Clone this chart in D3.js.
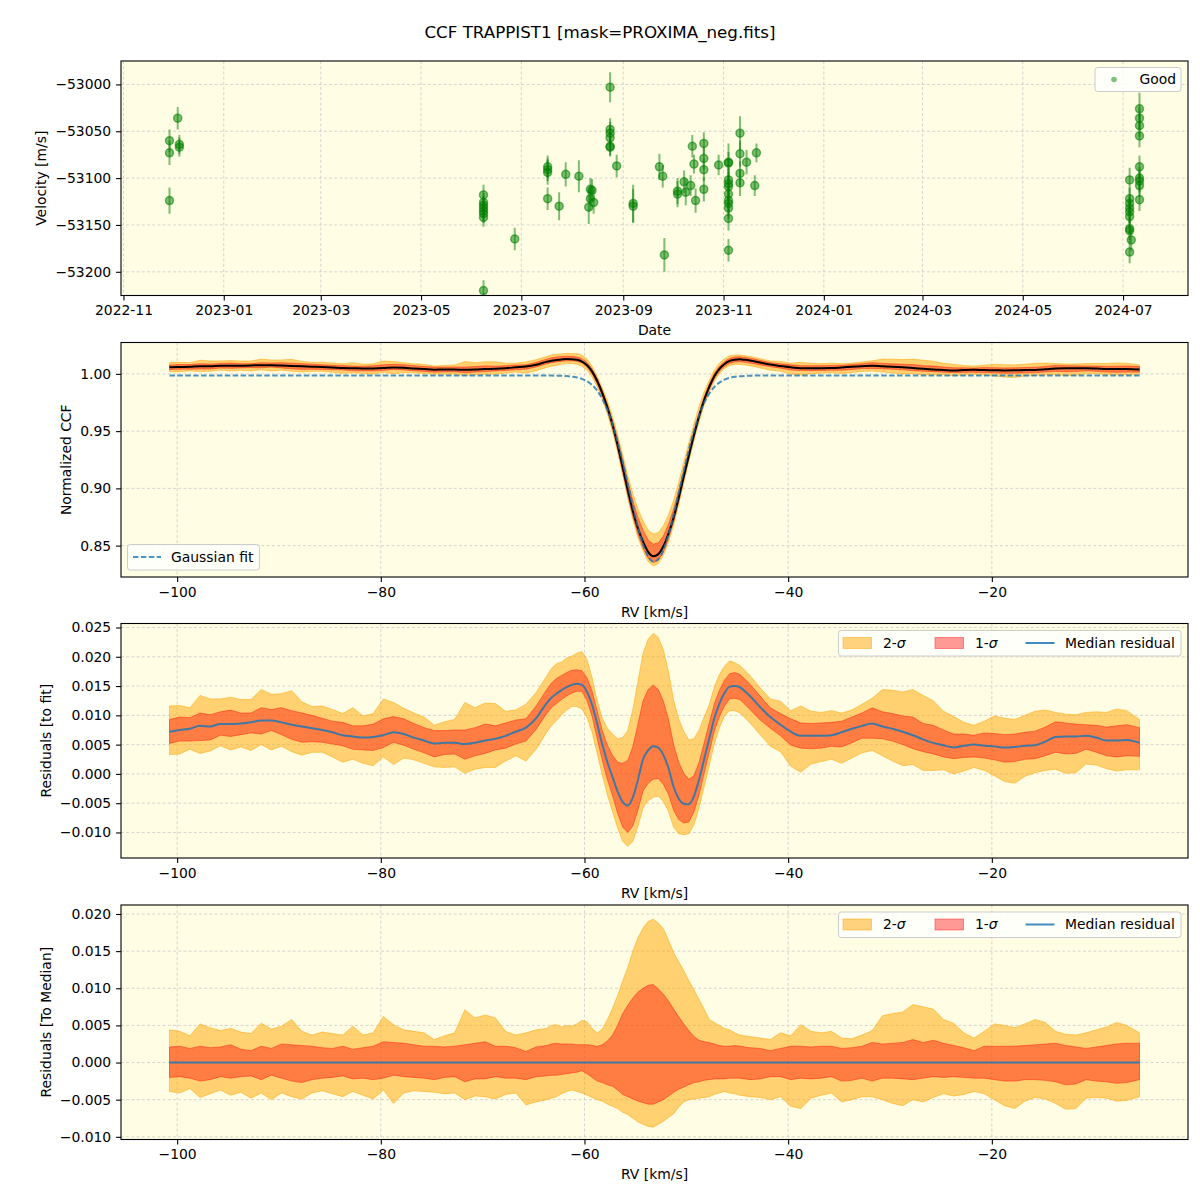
<!DOCTYPE html>
<html>
<head>
<meta charset="utf-8">
<script src="https://cdn.jsdelivr.net/npm/d3@7"></script>
<style>
body { margin: 0; background: #fff; }
text { font-family: "DejaVu Sans", sans-serif; }
</style>
</head>
<body>
<div id="chart"></div>
<script>
// Velocity time series (panel 1)
var velDates = [
	"2022-11-29","2022-11-29","2022-11-29","2022-12-04","2022-12-05","2022-12-05",
	"2023-06-08","2023-06-08","2023-06-08","2023-06-08","2023-06-08","2023-06-08","2023-06-08","2023-06-08",
	"2023-06-27","2023-07-17","2023-07-17","2023-07-17","2023-07-17","2023-07-24","2023-07-28","2023-08-05",
	"2023-08-11","2023-08-12","2023-08-12","2023-08-13","2023-08-14",
	"2023-08-24","2023-08-24","2023-08-24","2023-08-24","2023-08-24","2023-08-24","2023-08-28",
	"2023-09-07","2023-09-07","2023-09-23","2023-09-25","2023-09-26",
	"2023-10-04","2023-10-04","2023-10-08","2023-10-09","2023-10-12","2023-10-13","2023-10-14","2023-10-15",
	"2023-10-20","2023-10-20","2023-10-20","2023-10-20","2023-10-29",
	"2023-11-04","2023-11-04","2023-11-04","2023-11-04","2023-11-04","2023-11-04","2023-11-04","2023-11-04","2023-11-04","2023-11-04","2023-11-04",
	"2023-11-11","2023-11-11","2023-11-11","2023-11-11","2023-11-15","2023-11-20","2023-11-21",
	"2024-07-05","2024-07-05","2024-07-05","2024-07-05","2024-07-05","2024-07-05","2024-07-05","2024-07-05","2024-07-06","2024-07-05",
	"2024-07-11","2024-07-11","2024-07-11","2024-07-11","2024-07-11","2024-07-11","2024-07-11","2024-07-11","2024-07-11"
];
var velValues = [
	-53060,-53073,-53124,-53036,-53064,-53067,
	-53118,-53126,-53129,-53132,-53135,-53138,-53142,-53220,
	-53165,-53088,-53091,-53094,-53122,-53130,-53096,-53098,
	-53131,-53112,-53122,-53113,-53126,
	-53003,-53048,-53052,-53057,-53066,-53067,-53087,
	-53127,-53130,-53088,-53098,-53182,
	-53114,-53117,-53104,-53115,-53108,-53066,-53085,-53124,
	-53063,-53079,-53091,-53112,-53086,
	-53083,-53084,-53102,-53106,-53109,-53117,-53124,-53127,-53132,-53143,-53177,
	-53052,-53074,-53095,-53105,-53083,-53108,-53073,
	-53102,-53122,-53127,-53132,-53136,-53141,-53154,-53156,-53166,-53179,
	-53026,-53036,-53044,-53055,-53088,-53100,-53103,-53108,-53123
];
var velErrors = [
	12,13,14,12,10,10,
	11,10,10,10,10,10,10,11,
	12,12,12,13,12,15,13,17,
	18,12,12,12,12,
	16,12,12,11,10,10,12,
	20,18,14,12,18,
	14,14,12,14,11,12,10,13,
	12,12,12,13,11,
	20,12,13,12,12,12,12,12,12,13,12,
	18,14,13,14,13,11,10,
	13,12,12,12,12,12,12,12,12,12,
	17,12,12,12,12,12,12,12,12
];

// CCF grid [km/s]
var rv = [
	-100.75,-99.75,-98.75,-97.75,-96.75,-95.75,-94.75,-93.75,-92.75,-91.75,
	-90.75,-89.75,-88.75,-87.75,-86.75,-85.75,-84.75,-83.75,-82.75,-81.75,
	-80.75,-79.75,-78.75,-77.75,-76.75,-75.75,-74.75,-73.75,-72.75,-71.75,
	-70.75,-69.75,-68.75,-67.75,-66.75,-65.75,-64.75,
	-63.75,-63.25,-62.75,-62.25,-61.75,-61.25,-60.75,-60.25,-59.75,-59.25,
	-58.75,-58.25,-57.75,-57.25,-56.75,-56.25,-55.75,-55.25,-54.75,-54.25,
	-53.75,-53.25,-52.75,-52.25,-51.75,-51.25,-50.75,-50.25,-49.75,-49.25,
	-48.75,-48.25,-47.75,-47.25,-46.75,-46.25,-45.75,-45.25,-44.75,-44.25,
	-43.75,
	-42.75,-41.75,-40.75,-39.75,-38.75,-37.75,-36.75,-35.75,-34.75,-33.75,
	-32.75,-31.75,-30.75,-29.75,-28.75,-27.75,-26.75,-25.75,-24.75,-23.75,
	-22.75,-21.75,-20.75,-19.75,-18.75,-17.75,-16.75,-15.75,-14.75,-13.75,
	-12.75,-11.75,-10.75,-9.75,-8.75,-7.75,-6.75,-5.5
];
// Gaussian fit
var gaussFit = [
	0.9985,0.9985,0.9985,0.9985,0.9985,0.9985,0.9985,0.9985,0.9985,0.9985,
	0.9985,0.9985,0.9985,0.9985,0.9985,0.9985,0.9985,0.9985,0.9985,0.9985,
	0.9985,0.9985,0.9985,0.9985,0.9985,0.9985,0.9985,0.9985,0.9985,0.9985,
	0.9985,0.9985,0.9985,0.9985,0.9985,0.9985,0.9985,
	0.9985,0.9985,0.9984,0.9983,0.9981,0.9976,0.9969,0.9956,0.9935,0.9902,
	0.9853,0.9782,0.9686,0.9562,0.9409,0.9232,0.9039,0.8843,0.8661,0.8510,
	0.8406,0.8361,0.8381,0.8462,0.8596,0.8768,0.8960,0.9156,0.9340,0.9504,
	0.9640,0.9747,0.9827,0.9885,0.9924,0.9949,0.9965,0.9974,0.9979,0.9982,
	0.9984,
	0.9985,0.9985,0.9985,0.9985,0.9985,0.9985,0.9985,0.9985,0.9985,0.9985,
	0.9985,0.9985,0.9985,0.9985,0.9985,0.9985,0.9985,0.9985,0.9985,0.9985,
	0.9985,0.9985,0.9985,0.9985,0.9985,0.9985,0.9985,0.9985,0.9985,0.9985,
	0.9985,0.9985,0.9985,0.9985,0.9985,0.9985,0.9985,0.9985
];
// Median residual to the fit
var medRes = [
	0.0072,0.0075,0.0077,0.0082,0.0081,0.0085,0.0085,0.0086,0.0088,0.0091,
	0.0091,0.0088,0.0084,0.0081,0.0078,0.0075,0.0071,0.0066,0.0064,0.0062,
	0.0063,0.0066,0.0071,0.0068,0.0062,0.0057,0.0052,0.0053,0.0053,0.0051,
	0.0053,0.0057,0.0060,0.0065,0.0072,0.0079,0.0095,
	0.0120,0.0130,0.0137,0.0143,0.0148,0.0152,0.0154,0.0152,0.0140,0.0118,
	0.0085,0.0050,0.0020,-0.0005,-0.0030,-0.0048,-0.0054,-0.0040,-0.0010,0.0025,
	0.0040,0.0047,0.0045,0.0032,0.0010,-0.0022,-0.0042,-0.0051,-0.0052,-0.0038,
	-0.0010,0.0025,0.0060,0.0095,0.0120,0.0138,0.0149,0.0150,0.0148,0.0141,
	0.0133,
	0.0114,0.0097,0.0084,0.0072,0.0065,0.0065,0.0065,0.0066,0.0071,0.0077,
	0.0082,0.0086,0.0081,0.0077,0.0072,0.0066,0.0059,0.0053,0.0049,0.0045,
	0.0048,0.0050,0.0048,0.0047,0.0045,0.0046,0.0048,0.0049,0.0055,0.0063,
	0.0064,0.0064,0.0065,0.0062,0.0057,0.0057,0.0058,0.0053
];
// Percentile bands relative to the median
var hi2 = [
	0.0044,0.0042,0.0036,0.0052,0.0047,0.0043,0.0046,0.0041,0.0039,0.0053,
	0.0045,0.0049,0.0058,0.0042,0.0037,0.0041,0.0039,0.0037,0.0049,0.0037,
	0.0040,0.0062,0.0051,0.0044,0.0042,0.0040,0.0031,0.0036,0.0040,0.0071,
	0.0060,0.0064,0.0060,0.0042,0.0037,0.0040,0.0044,
	0.0046,0.0050,0.0051,0.0048,0.0050,0.0049,0.0052,0.0057,0.0055,0.0046,
	0.0040,0.0045,0.0058,0.0073,0.0090,0.0110,0.0128,0.0150,0.0168,0.0181,
	0.0190,0.0193,0.0188,0.0180,0.0165,0.0148,0.0136,0.0124,0.0110,0.0098,
	0.0085,0.0072,0.0058,0.0054,0.0050,0.0046,0.0044,0.0040,0.0037,0.0036,
	0.0035,
	0.0033,0.0031,0.0040,0.0036,0.0051,0.0042,0.0040,0.0042,0.0033,0.0032,
	0.0037,0.0043,0.0063,0.0066,0.0068,0.0078,0.0075,0.0072,0.0058,0.0053,
	0.0040,0.0033,0.0042,0.0052,0.0050,0.0047,0.0052,0.0058,0.0054,0.0042,
	0.0038,0.0037,0.0040,0.0044,0.0048,0.0054,0.0050,0.0040
];
var hi1 = [
	0.0021,0.0022,0.0019,0.0022,0.0020,0.0021,0.0024,0.0018,0.0016,0.0022,
	0.0019,0.0025,0.0024,0.0023,0.0022,0.0020,0.0019,0.0022,0.0018,0.0020,
	0.0022,0.0028,0.0027,0.0026,0.0024,0.0022,0.0022,0.0021,0.0022,0.0024,
	0.0026,0.0028,0.0022,0.0022,0.0020,0.0015,0.0021,
	0.0023,0.0025,0.0026,0.0025,0.0025,0.0025,0.0024,0.0024,0.0024,0.0023,
	0.0022,0.0024,0.0029,0.0037,0.0050,0.0066,0.0077,0.0087,0.0095,0.0100,
	0.0104,0.0105,0.0099,0.0092,0.0083,0.0072,0.0062,0.0052,0.0043,0.0035,
	0.0030,0.0028,0.0027,0.0025,0.0023,0.0022,0.0022,0.0023,0.0022,0.0021,
	0.0020,
	0.0019,0.0016,0.0019,0.0022,0.0022,0.0021,0.0022,0.0022,0.0019,0.0020,
	0.0022,0.0027,0.0025,0.0026,0.0027,0.0031,0.0027,0.0030,0.0026,0.0023,
	0.0020,0.0016,0.0022,0.0022,0.0022,0.0022,0.0023,0.0024,0.0025,0.0026,
	0.0023,0.0021,0.0019,0.0021,0.0023,0.0025,0.0026,0.0026
];
var lo1 = [
	-0.0020,-0.0019,-0.0021,-0.0025,-0.0023,-0.0019,-0.0021,-0.0019,-0.0018,-0.0023,
	-0.0017,-0.0021,-0.0025,-0.0027,-0.0023,-0.0021,-0.0020,-0.0018,-0.0022,-0.0021,
	-0.0023,-0.0021,-0.0017,-0.0019,-0.0020,-0.0021,-0.0023,-0.0020,-0.0019,-0.0026,
	-0.0022,-0.0022,-0.0019,-0.0021,-0.0021,-0.0023,-0.0019,
	-0.0018,-0.0017,-0.0017,-0.0016,-0.0015,-0.0014,-0.0013,-0.0011,-0.0015,-0.0020,
	-0.0025,-0.0027,-0.0030,-0.0032,-0.0037,-0.0043,-0.0046,-0.0049,-0.0052,-0.0054,
	-0.0056,-0.0056,-0.0053,-0.0050,-0.0045,-0.0040,-0.0036,-0.0033,-0.0030,-0.0027,
	-0.0026,-0.0024,-0.0023,-0.0022,-0.0022,-0.0022,-0.0021,-0.0021,-0.0021,-0.0022,
	-0.0023,
	-0.0022,-0.0019,-0.0019,-0.0023,-0.0021,-0.0022,-0.0021,-0.0019,-0.0025,-0.0024,
	-0.0021,-0.0025,-0.0021,-0.0021,-0.0022,-0.0023,-0.0021,-0.0019,-0.0020,-0.0019,
	-0.0020,-0.0021,-0.0021,-0.0023,-0.0025,-0.0025,-0.0023,-0.0023,-0.0024,-0.0026,
	-0.0030,-0.0029,-0.0023,-0.0025,-0.0026,-0.0028,-0.0027,-0.0023
];
var lo2 = [
	-0.0039,-0.0041,-0.0035,-0.0047,-0.0042,-0.0037,-0.0044,-0.0040,-0.0048,-0.0041,
	-0.0050,-0.0041,-0.0046,-0.0049,-0.0041,-0.0038,-0.0042,-0.0046,-0.0039,-0.0044,
	-0.0049,-0.0037,-0.0055,-0.0041,-0.0038,-0.0039,-0.0040,-0.0042,-0.0041,-0.0050,
	-0.0045,-0.0046,-0.0049,-0.0043,-0.0041,-0.0057,-0.0053,
	-0.0050,-0.0048,-0.0046,-0.0042,-0.0039,-0.0037,-0.0039,-0.0041,-0.0044,-0.0047,
	-0.0050,-0.0052,-0.0056,-0.0059,-0.0062,-0.0067,-0.0070,-0.0075,-0.0080,-0.0083,
	-0.0086,-0.0087,-0.0083,-0.0079,-0.0074,-0.0069,-0.0060,-0.0053,-0.0050,-0.0049,
	-0.0048,-0.0047,-0.0046,-0.0043,-0.0041,-0.0039,-0.0041,-0.0042,-0.0044,-0.0045,
	-0.0046,
	-0.0047,-0.0050,-0.0046,-0.0059,-0.0062,-0.0048,-0.0044,-0.0041,-0.0053,-0.0050,
	-0.0046,-0.0046,-0.0050,-0.0055,-0.0058,-0.0050,-0.0053,-0.0047,-0.0042,-0.0045,
	-0.0043,-0.0039,-0.0042,-0.0050,-0.0058,-0.0062,-0.0052,-0.0047,-0.0049,-0.0055,
	-0.0063,-0.0062,-0.0048,-0.0047,-0.0048,-0.0052,-0.0051,-0.0046
];

// Tick values
var velTicks = [-53200, -53150, -53100, -53050, -53000];
var ccfTicks = [0.85, 0.90, 0.95, 1.00];
var resTicks = [-0.010, -0.005, 0.000, 0.005, 0.010, 0.015, 0.020, 0.025];
var medTicks = [-0.010, -0.005, 0.000, 0.005, 0.010, 0.015, 0.020];
var rvTicks = [-100, -80, -60, -40, -20];

var width = 1200,
	height = 1200;
var left = 121, right = 1188, ph = 234.5;
var tops = [61, 342.5, 623.5, 905];
var axBg = "#fffde3", gridColor = "#cccccc";
var c2 = "orange", c1 = "red", blue = "#1f77b4";

var svg = d3.select("#chart")
	.append("svg")
	.attr("width", width)
	.attr("height", height);

svg.append("text")
	.attr("x", 600).attr("y", 38)
	.attr("text-anchor", "middle")
	.style("font-size", "16.7px")
	.text("CCF TRAPPIST1 [mask=PROXIMA_neg.fits]");

// Scales
var parseDate = d3.utcParse("%Y-%m-%d");
var dates = velDates.map(parseDate);
var dExt = d3.extent(dates), dPad = (dExt[1] - dExt[0]) * 0.05;
var xDate = d3.scaleUtc()
	.domain([new Date(+dExt[0] - dPad), new Date(+dExt[1] + dPad)])
	.range([left, right]);
var rvExt = d3.extent(rv), rvPad = (rvExt[1] - rvExt[0]) * 0.05;
var xRV = d3.scaleLinear().domain([rvExt[0] - rvPad, rvExt[1] + rvPad]).range([left, right]);

function yScale(k, lo, hi) {
	return d3.scaleLinear().domain([lo, hi]).range([tops[k] + ph, tops[k]]);
}
var yVel = yScale(0, -53225.3, -52975);
var yCCF = yScale(1, 0.8226, 1.0274);
var yRes = yScale(2, -0.01436, 0.02568);
var yMed = yScale(3, -0.01036, 0.02121);

function makePanel(k, x, y, xTicks, xFmt, yTicks, yFmt, xLabel, yLabel, yLabelX) {
	var top = tops[k], bottom = top + ph;
	var g = svg.append("g");
	g.append("rect")
		.attr("x", left).attr("y", top)
		.attr("width", right - left).attr("height", ph)
		.attr("fill", axBg);
	var grid = g.append("g")
		.attr("stroke", gridColor)
		.attr("stroke-width", 0.8)
		.attr("stroke-dasharray", "3,2.2");
	grid.selectAll(null).data(xTicks).enter().append("line")
		.attr("x1", function(d){ return x(d); }).attr("x2", function(d){ return x(d); })
		.attr("y1", top).attr("y2", bottom);
	grid.selectAll(null).data(yTicks).enter().append("line")
		.attr("x1", left).attr("x2", right)
		.attr("y1", function(d){ return y(d); }).attr("y2", function(d){ return y(d); });

	g.append("clipPath").attr("id", "clip" + k)
		.append("rect")
		.attr("x", left).attr("y", top)
		.attr("width", right - left).attr("height", ph);
	var plot = g.append("g").attr("clip-path", "url(#clip" + k + ")");

	var ax = g.append("g")
		.attr("transform", "translate(0," + bottom + ")")
		.call(d3.axisBottom(x).tickValues(xTicks).tickFormat(xFmt).tickSize(4.9).tickPadding(4.9));
	var ay = g.append("g")
		.attr("transform", "translate(" + left + ",0)")
		.call(d3.axisLeft(y).tickValues(yTicks).tickFormat(yFmt).tickSize(4.9).tickPadding(4.9));
	[ax, ay].forEach(function(a){
		a.select(".domain").remove();
		a.attr("font-size", 13.9).attr("font-family", "DejaVu Sans");
		a.selectAll(".tick line").attr("stroke-width", 1.1);
		a.selectAll(".tick text").attr("fill", "#000");
	});

	g.append("rect")
		.attr("x", left).attr("y", top)
		.attr("width", right - left).attr("height", ph)
		.attr("fill", "none")
		.attr("stroke", "#000")
		.attr("stroke-width", 1.1);

	g.append("text")
		.attr("x", (left + right) / 2).attr("y", bottom + 39.5)
		.attr("text-anchor", "middle")
		.style("font-size", "13.9px")
		.text(xLabel);
	g.append("text")
		.attr("transform", "translate(" + yLabelX + "," + (top + ph / 2) + ") rotate(-90)")
		.attr("text-anchor", "middle")
		.style("font-size", "13.9px")
		.text(yLabel);
	return plot;
}

function legendBox(x, y, w, h) {
	svg.append("rect")
		.attr("x", x).attr("y", y).attr("width", w).attr("height", h)
		.attr("rx", 2.8)
		.attr("fill", "#fff").attr("fill-opacity", 0.8)
		.attr("stroke", "#cccccc").attr("stroke-width", 1);
}

function sigmaLabel(x, y, n) {
	var t = svg.append("text").attr("x", x).attr("y", y).attr("dy", "0.35em").style("font-size", "13.9px");
	t.append("tspan").text(n + "-");
	t.append("tspan").style("font-style", "italic").text("\u03c3");
}

// Panel 1: velocities
var p1 = makePanel(0, xDate, yVel, xDate.ticks(d3.utcMonth.every(2)), d3.utcFormat("%Y-%m"),
	velTicks, d3.format("d"), "Date", "Velocity [m/s]", 45.5);
var pts = dates.map(function(d, i){ return {t: d, v: velValues[i], e: velErrors[i]}; });
p1.selectAll(".err").data(pts).enter().append("line")
	.attr("x1", function(d){ return xDate(d.t); })
	.attr("x2", function(d){ return xDate(d.t); })
	.attr("y1", function(d){ return yVel(d.v - d.e); })
	.attr("y2", function(d){ return yVel(d.v + d.e); })
	.attr("stroke", "green").attr("stroke-opacity", 0.5).attr("stroke-width", 2);
p1.selectAll(".pt").data(pts).enter().append("circle")
	.attr("cx", function(d){ return xDate(d.t); })
	.attr("cy", function(d){ return yVel(d.v); })
	.attr("r", 4)
	.attr("fill", "green").attr("fill-opacity", 0.5)
	.attr("stroke", "green").attr("stroke-opacity", 0.55).attr("stroke-width", 1.5);

legendBox(1095, 67.5, 86, 24);
svg.append("circle").attr("cx", 1114).attr("cy", 79.5).attr("r", 2.8)
	.attr("fill", "green").attr("fill-opacity", 0.5);
svg.append("text").attr("x", 1139.5).attr("y", 79.5).attr("dy", "0.35em")
	.style("font-size", "13.9px").text("Good");

// Derived series
var ccfMed = rv.map(function(d, i){ return gaussFit[i] + medRes[i]; });

function drawBands(plot, y, base) {
	var area2 = d3.area()
		.x(function(d, i){ return xRV(rv[i]); })
		.y0(function(d, i){ return y(base[i] + lo2[i]); })
		.y1(function(d, i){ return y(base[i] + hi2[i]); });
	var area1 = d3.area()
		.x(function(d, i){ return xRV(rv[i]); })
		.y0(function(d, i){ return y(base[i] + lo1[i]); })
		.y1(function(d, i){ return y(base[i] + hi1[i]); });
	plot.append("path").attr("d", area2(rv))
		.attr("fill", c2).attr("fill-opacity", 0.5)
		.attr("stroke", c2).attr("stroke-opacity", 0.5).attr("stroke-width", 1);
	plot.append("path").attr("d", area1(rv))
		.attr("fill", c1).attr("fill-opacity", 0.4)
		.attr("stroke", c1).attr("stroke-opacity", 0.4).attr("stroke-width", 1);
}

function seriesLine(y, vals) {
	return d3.line()
		.x(function(d, i){ return xRV(rv[i]); })
		.y(function(d, i){ return y(vals[i]); })
		.curve(d3.curveMonotoneX)(rv);
}

// Panel 2: normalized CCF
var p2 = makePanel(1, xRV, yCCF, rvTicks, d3.format("d"), ccfTicks, d3.format(".2f"),
	"RV [km/s]", "Normalized CCF", 70.5);
drawBands(p2, yCCF, ccfMed);
p2.append("path").attr("d", seriesLine(yCCF, ccfMed))
	.attr("fill", "none").attr("stroke", "#000").attr("stroke-width", 2);
p2.append("path").attr("d", seriesLine(yCCF, gaussFit))
	.attr("fill", "none").attr("stroke", blue).attr("stroke-opacity", 0.8)
	.attr("stroke-width", 2).attr("stroke-dasharray", "5.5,2.4");

legendBox(127.5, 544.5, 132, 25.5);
svg.append("line").attr("x1", 133).attr("x2", 161).attr("y1", 557).attr("y2", 557)
	.attr("stroke", blue).attr("stroke-opacity", 0.8).attr("stroke-width", 2).attr("stroke-dasharray", "5.5,2.4");
svg.append("text").attr("x", 171).attr("y", 557).attr("dy", "0.35em")
	.style("font-size", "13.9px").text("Gaussian fit");

// Panels 3 and 4: residuals
var zero = rv.map(function(){ return 0; });
var p3 = makePanel(2, xRV, yRes, rvTicks, d3.format("d"), resTicks, d3.format(".3f"),
	"RV [km/s]", "Residuals [to fit]", 50.5);
drawBands(p3, yRes, medRes);
p3.append("path").attr("d", seriesLine(yRes, medRes))
	.attr("fill", "none").attr("stroke", blue).attr("stroke-opacity", 0.85).attr("stroke-width", 2);

var p4 = makePanel(3, xRV, yMed, rvTicks, d3.format("d"), medTicks, d3.format(".3f"),
	"RV [km/s]", "Residuals [To Median]", 50.5);
drawBands(p4, yMed, zero);
p4.append("path").attr("d", seriesLine(yMed, zero))
	.attr("fill", "none").attr("stroke", blue).attr("stroke-opacity", 0.85).attr("stroke-width", 2);

[2, 3].forEach(function(k){
	var ly = tops[k] + 7;
	legendBox(838.5, ly, 342.5, 25.5);
	var cy = ly + 12.5;
	svg.append("rect").attr("x", 843).attr("y", cy - 5.5).attr("width", 28.5).attr("height", 11)
		.attr("fill", c2).attr("fill-opacity", 0.5).attr("stroke", c2).attr("stroke-opacity", 0.5);
	sigmaLabel(883, cy, 2);
	svg.append("rect").attr("x", 935).attr("y", cy - 5.5).attr("width", 28.5).attr("height", 11)
		.attr("fill", c1).attr("fill-opacity", 0.4).attr("stroke", c1).attr("stroke-opacity", 0.4);
	sigmaLabel(975, cy, 1);
	svg.append("line").attr("x1", 1025.5).attr("x2", 1054.5).attr("y1", cy).attr("y2", cy)
		.attr("stroke", blue).attr("stroke-opacity", 0.85).attr("stroke-width", 2);
	svg.append("text").attr("x", 1065).attr("y", cy).attr("dy", "0.35em")
		.style("font-size", "13.9px").text("Median residual");
});
</script>
</body>
</html>
